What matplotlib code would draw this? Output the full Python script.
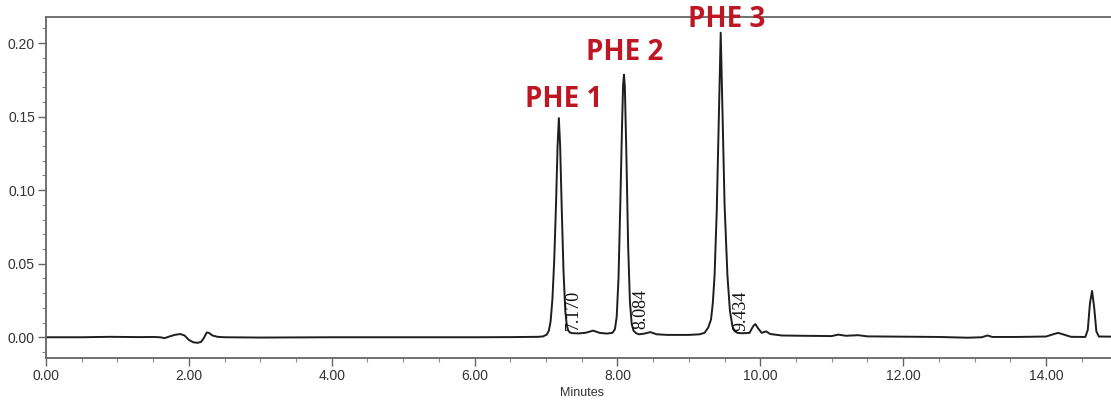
import matplotlib
matplotlib.use("Agg")
import matplotlib.pyplot as plt
from matplotlib.ticker import MultipleLocator, FormatStrFormatter

# Chromatogram trace (minutes, AU)
times = [0.00, 0.50, 0.90, 1.10, 1.30, 1.50, 1.60, 1.66, 1.72, 1.80, 1.88, 1.94,
         2.00, 2.06, 2.12, 2.17, 2.21, 2.25, 2.28, 2.33, 2.40, 2.50, 3.00, 4.00,
         5.00, 6.00, 6.50, 6.90, 6.96, 7.01, 7.04, 7.065, 7.09, 7.115, 7.14,
         7.162, 7.18, 7.198, 7.22, 7.245, 7.27, 7.29, 7.31, 7.33, 7.36, 7.45,
         7.55, 7.66, 7.75, 7.85, 7.93, 7.965, 7.99, 8.015, 8.04, 8.065, 8.08,
         8.092, 8.104, 8.125, 8.15, 8.175, 8.20, 8.225, 8.26, 8.30, 8.38, 8.46,
         8.55, 8.70, 9.00, 9.15, 9.22, 9.27, 9.31, 9.335, 9.36, 9.39, 9.42, 9.446,
         9.47, 9.50, 9.54, 9.575, 9.61, 9.64, 9.68, 9.75, 9.85, 9.90, 9.93, 9.97,
         10.02, 10.08, 10.14, 10.30, 10.60, 11.00, 11.09, 11.20, 11.37, 11.50,
         12.00, 12.50, 12.90, 13.10, 13.18, 13.25, 13.60, 14.00, 14.10, 14.17,
         14.25, 14.35, 14.55, 14.585, 14.615, 14.645, 14.675, 14.705, 14.74,
         14.95]
absorb = [0.0000, 0.0000, 0.0003, 0.0002, 0.0001, 0.0002, 0.0000, -0.0006, 0.0004,
          0.0016, 0.0022, 0.0012, -0.0018, -0.0034, -0.0038, -0.0032, -0.0005,
          0.0032, 0.0030, 0.0012, 0.0003, 0.0000, -0.0002, 0.0000, 0.0000, 0.0000,
          0.0001, 0.0003, 0.0006, 0.0018, 0.0045, 0.0110, 0.0260, 0.0520, 0.0900,
          0.1300, 0.1490, 0.1300, 0.0880, 0.0450, 0.0180, 0.0085, 0.0048, 0.0034,
          0.0028, 0.0026, 0.0030, 0.0045, 0.0030, 0.0025, 0.0030, 0.0055, 0.0140,
          0.0400, 0.0900, 0.1450, 0.1720, 0.1785, 0.1700, 0.1250, 0.0620, 0.0240,
          0.0090, 0.0045, 0.0028, 0.0020, 0.0025, 0.0035, 0.0020, 0.0016, 0.0016,
          0.0020, 0.0030, 0.0065, 0.0120, 0.0230, 0.0420, 0.0850, 0.1500, 0.2070,
          0.1550, 0.0900, 0.0420, 0.0180, 0.0075, 0.0042, 0.0030, 0.0027, 0.0030,
          0.0075, 0.0090, 0.0060, 0.0030, 0.0040, 0.0022, 0.0012, 0.0010, 0.0008,
          0.0018, 0.0010, 0.0014, 0.0006, 0.0004, 0.0002, -0.0003, 0.0000, 0.0012,
          0.0002, 0.0002, 0.0005, 0.0020, 0.0030, 0.0018, 0.0003, 0.0002, 0.0050,
          0.0230, 0.0315, 0.0200, 0.0040, 0.0005, 0.0004]

# Peak annotations
peak_names = ["PHE 1", "PHE 2", "PHE 3"]
peak_name_x = [7.252, 8.106, 9.53]
peak_name_y = [0.1566, 0.1886, 0.2108]
rt_labels = ["7.170", "8.084", "9.434"]
rt_label_x = [7.382, 8.33, 9.73]
rt_label_y = [0.0048, 0.0056, 0.0044]

x_ticks = [0, 2, 4, 6, 8, 10, 12, 14]
y_ticks = [0.00, 0.05, 0.10, 0.15, 0.20]

fig = plt.figure(figsize=(11.11, 4.03), dpi=100)
ax = fig.add_axes([46 / 1111, (403 - 358) / 403, 1 - 46 / 1111, (358 - 17) / 403])

ax.plot(times, absorb, color="#1e1e1e", lw=1.4)

ax.set_xlim(0, 14.91)
ax.set_ylim(-0.0141, 0.2177)

ax.set_xticks(x_ticks)
ax.set_yticks(y_ticks)
ax.xaxis.set_minor_locator(MultipleLocator(0.5))
ax.yaxis.set_minor_locator(MultipleLocator(0.01))
ax.xaxis.set_major_formatter(FormatStrFormatter("%.2f"))
ax.yaxis.set_major_formatter(FormatStrFormatter("%.2f"))

for s in ["left", "bottom", "top"]:
    ax.spines[s].set_color("#666666")
    ax.spines[s].set_linewidth(1.3)
ax.spines["right"].set_visible(False)

ax.tick_params(axis="both", which="major", length=6, width=1, color="#666666",
               labelsize=10, labelcolor="#333333", pad=2)
ax.tick_params(axis="both", which="minor", length=3, width=0.8, color="#888888")
for lab in ax.get_xticklabels() + ax.get_yticklabels():
    lab.set_fontfamily("Liberation Sans")

ax.set_xlabel("Minutes", fontsize=9, color="#333333", family="Liberation Sans")
ax.xaxis.set_label_coords(0.503, -0.085)

for name, x, y in zip(peak_names, peak_name_x, peak_name_y):
    ax.text(x, y, name, color="#BE1622", fontsize=20, fontweight="bold",
            family="Open Sans", ha="center", va="baseline", clip_on=False)

for lab, x, y in zip(rt_labels, rt_label_x, rt_label_y):
    ax.text(x, y, lab, rotation=90, fontsize=13, family="Liberation Serif",
            color="#111111", ha="center", va="bottom")

fig.savefig("out.png", dpi=100)
